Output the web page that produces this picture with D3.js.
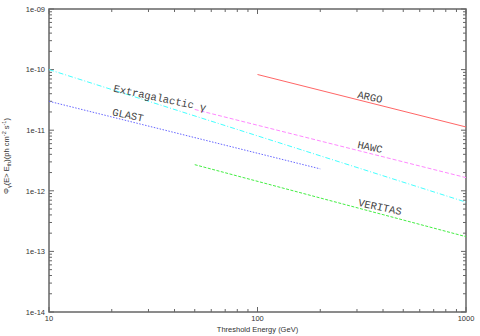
<!DOCTYPE html>
<html>
<head>
    <script src="https://d3js.org/d3.v7.min.js"></script>
    <style>
        body { margin: 0; background: #fff; }
        svg { display: block; }
    </style>
</head>
<body>
    <svg id="chart"></svg>
    <script>
        // Flux sensitivity curves (energy in GeV, integral flux)
        const argoE = [100, 1000];
        const argoF = [8.3e-11, 1.13e-11];
        const hawcE = [50, 1000];
        const hawcF = [2.2e-11, 1.65e-12];
        const egE = [10, 1000];
        const egF = [1.0e-10, 6.5e-13];
        const glastE = [10, 200];
        const glastF = [3.0e-11, 2.3e-12];
        const veritasE = [50, 1000];
        const veritasF = [2.7e-12, 1.75e-13];

        const xTicks = [10, 100, 1000];
        const yTicks = [1e-14, 1e-13, 1e-12, 1e-11, 1e-10, 1e-9];
        const yTickLabels = ["1e-14", "1e-13", "1e-12", "1e-11", "1e-10", "1e-09"];

        const width = 480, height = 336;
        const margin = {left: 49, right: 14, top: 9, bottom: 24};

        const svg = d3.select("#chart")
            .attr("width", width)
            .attr("height", height);

        const x = d3.scaleLog().domain([10, 1000]).range([margin.left, width - margin.right]);
        const y = d3.scaleLog().domain([1e-14, 1e-9]).range([height - margin.bottom, margin.top]);

        const axisColor = "#666";
        const x0 = x.range()[0], x1 = x.range()[1];
        const y0 = y.range()[0], y1 = y.range()[1];

        // Minor and major ticks on all four sides
        const xAll = [];
        for (let d = 10; d < 1000; d *= 10)
            for (let k = 1; k < 10; k++) xAll.push(d * k);
        xAll.push(1000);
        const yAll = [];
        for (let d = 1e-14; d < 1e-9 * 0.99; d *= 10)
            for (let k = 1; k < 10; k++) yAll.push(d * k);
        yAll.push(1e-9);

        const ticks = svg.append("g").attr("stroke", axisColor).attr("stroke-width", 1);
        xAll.forEach(v => {
            const major = xTicks.some(t => Math.abs(t - v) < 1e-6);
            const len = major ? 5 : 3;
            ticks.append("line").attr("x1", x(v)).attr("x2", x(v)).attr("y1", y0).attr("y2", y0 - len);
            ticks.append("line").attr("x1", x(v)).attr("x2", x(v)).attr("y1", y1).attr("y2", y1 + len);
        });
        yAll.forEach(v => {
            const major = yTicks.some(t => Math.abs(Math.log10(t) - Math.log10(v)) < 1e-6);
            const len = major ? 5 : 3;
            ticks.append("line").attr("y1", y(v)).attr("y2", y(v)).attr("x1", x0).attr("x2", x0 + len);
            ticks.append("line").attr("y1", y(v)).attr("y2", y(v)).attr("x1", x1).attr("x2", x1 - len);
        });

        svg.append("rect")
            .attr("x", x0).attr("y", y1)
            .attr("width", x1 - x0).attr("height", y0 - y1)
            .attr("fill", "none")
            .attr("stroke", axisColor)
            .attr("stroke-width", 1.5);

        // Tick labels
        const labelFont = "Liberation Sans, Arial, sans-serif";
        const fs = 7.5;
        svg.append("g").selectAll("text")
            .data(xTicks)
            .join("text")
            .attr("x", d => x(d))
            .attr("y", y0 + 9)
            .attr("text-anchor", "middle")
            .attr("font-family", labelFont)
            .attr("font-size", fs)
            .attr("fill", "#333")
            .text(d => d);

        svg.append("g").selectAll("text")
            .data(yTicks)
            .join("text")
            .attr("x", x0 - 4)
            .attr("y", d => y(d) + 2.7)
            .attr("text-anchor", "end")
            .attr("font-family", labelFont)
            .attr("font-size", fs)
            .attr("fill", "#333")
            .text((d, i) => yTickLabels[i]);

        // Axis titles
        svg.append("text")
            .attr("x", (x0 + x1) / 2)
            .attr("y", height - 4)
            .attr("text-anchor", "middle")
            .attr("font-family", labelFont)
            .attr("font-size", fs)
            .attr("fill", "#333")
            .text("Threshold Energy (GeV)");

        const yt = svg.append("text")
            .attr("transform", `translate(9, 156) rotate(-90)`)
            .attr("text-anchor", "middle")
            .attr("font-family", labelFont)
            .attr("font-size", fs)
            .attr("fill", "#333");
        yt.append("tspan").text("Φ");
        yt.append("tspan").attr("font-size", 5.5).attr("dy", 2).text("γ");
        yt.append("tspan").attr("dy", -2).text("(E> E");
        yt.append("tspan").attr("font-size", 5.5).attr("dy", 2).text("th");
        yt.append("tspan").attr("dy", -2).text(")(ph cm");
        yt.append("tspan").attr("font-size", 5.5).attr("dy", -3).text("-2");
        yt.append("tspan").attr("dy", 3).text(" s");
        yt.append("tspan").attr("font-size", 5.5).attr("dy", -3).text("-1");
        yt.append("tspan").attr("dy", 3).text(")");

        // Curves
        const line = d3.line().x(d => x(d[0])).y(d => y(d[1]));
        const series = [
            {e: argoE, f: argoF, color: "#f66", dash: null},
            {e: hawcE, f: hawcF, color: "#f8f", dash: "4,2"},
            {e: egE, f: egF, color: "#4ff", dash: "5,2,1,2"},
            {e: glastE, f: glastF, color: "#66f", dash: "1.5,1.5"},
            {e: veritasE, f: veritasF, color: "#4e4", dash: "3,1.5"}
        ];
        svg.append("g").selectAll("path")
            .data(series)
            .join("path")
            .attr("d", s => line(s.e.map((v, i) => [v, s.f[i]])))
            .attr("fill", "none")
            .attr("stroke", s => s.color)
            .attr("stroke-width", 1)
            .attr("stroke-dasharray", s => s.dash);

        // Curve labels
        const labels = [
            {text: "ARGO", cx: 370, cy: 97},
            {text: "HAWC", cx: 370, cy: 147},
            {text: "VERITAS", cx: 380, cy: 207},
            {text: "Extragalactic γ", cx: 160, cy: 98},
            {text: "GLAST", cx: 128, cy: 115}
        ];
        svg.append("g").selectAll("text")
            .data(labels)
            .join("text")
            .attr("transform", d => `translate(${d.cx}, ${d.cy}) rotate(12)`)
            .attr("text-anchor", "middle")
            .attr("dy", 3.5)
            .attr("font-family", "Liberation Mono, Courier New, monospace")
            .attr("font-size", 10.5)
            .attr("fill", "#444")
            .text(d => d.text);
    </script>
</body>
</html>
